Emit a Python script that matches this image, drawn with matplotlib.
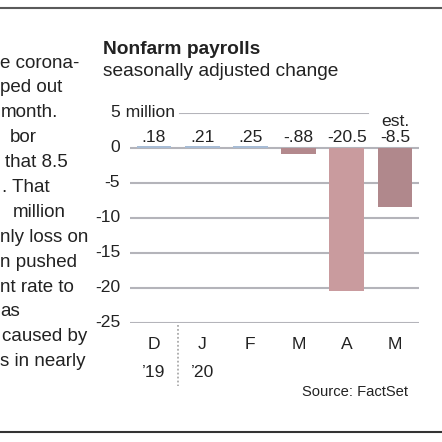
import matplotlib.pyplot as plt
from matplotlib.lines import Line2D

plt.rcParams['font.family'] = ['Liberation Sans', 'DejaVu Sans']

months = ['D', 'J', 'F', 'M', 'A', 'M']
years = ['\u201919', '\u201920']
change = [0.18, 0.21, 0.25, -0.88, -20.5, -8.5]
value_labels = ['.18', '.21', '.25', '-.88', '-20.5', '-8.5']
bar_colors = ['#a7bcd5', '#a7bcd5', '#a7bcd5', '#b3898d', '#c99b9e', '#b0888c']
yticks = [0, -5, -10, -15, -20, -25]

# story text on the left, only the part that shows in the crop
story = ['e corona-', 'ped out', 'month.', 'bor', 'that 8.5', '. That', 'million',
         'nly loss on', 'n pushed', 'nt rate to', 'as', 'caused by', 's in nearly']
story_left = [0.5, 0.5, 0.5, 10, 5, 2, 13, 0.5, 0.5, 0.5, 0.5, 2, 0.5]

W = H = 442
fig = plt.figure(figsize=(4.42, 4.42), dpi=100)
txt = '#222222'

# frame rules
fig.add_artist(Line2D([0, 1], [1 - 7.7 / H] * 2, color='#5a5a5a', lw=1.5))
fig.add_artist(Line2D([0, 1], [1 - 431.7 / H] * 2, color='#333333', lw=1.5))

for i, (s, l) in enumerate(zip(story, story_left)):
    y = 63 + i * 24.9
    fig.text(l / W, 1 - y / H, s, ha='left', va='center', fontsize=13.5, color=txt)

fig.text(103 / W, 1 - 50 / H, 'Nonfarm payrolls', fontsize=13.8, fontweight='bold',
         va='center', color=txt)
fig.text(103 / W, 1 - 72 / H, 'seasonally adjusted change', fontsize=13.8,
         va='center', color=txt)

ax_l, ax_r = 129.9, 419.1
ax_t, ax_b = 112.5, 322.5
ax = fig.add_axes([ax_l / W, 1 - ax_b / H, (ax_r - ax_l) / W, (ax_b - ax_t) / H])
ax.set_xlim(-0.5, 5.5)
ax.set_ylim(-25, 5)
ax.axis('off')

grid = '#b4b4ba'
for t in yticks:
    ax.axhline(t, color=grid, lw=1.5, zorder=1)
ax.axhline(5, xmin=(180 - ax_l) / (ax_r - ax_l), xmax=(368 - ax_l) / (ax_r - ax_l),
           color=grid, lw=1.5, zorder=1)

x = list(range(len(months)))
ax.bar(x, change, width=0.726, color=bar_colors, zorder=2)

yt = ax.get_yaxis_transform()
for t in yticks:
    ax.text((120 - ax_l) / (ax_r - ax_l), t, str(t), transform=yt,
            ha='right', va='center', fontsize=12.6, color=txt)
ax.text((111 - ax_l) / (ax_r - ax_l), 5, '5 million', transform=yt,
        ha='left', va='center', fontsize=12.6, color=txt)

for xi, lab in zip(x, value_labels):
    ax.annotate(lab, (xi, 0), xytext=(0, 4), textcoords='offset points',
                ha='center', va='baseline', fontsize=12.6, color=txt)
ax.annotate('est.', (x[-1], 0), xytext=(0, 15.5), textcoords='offset points',
            ha='center', va='baseline', fontsize=12.6, color=txt)

xt = ax.get_xaxis_transform()
for xi, m in zip(x, months):
    ax.text(xi, -0.107, m, transform=xt, ha='center', va='center', fontsize=12.6, color=txt)
for xi, yr in zip(x[:2], years):
    ax.text(xi, -0.24, yr, transform=xt, ha='center', va='center', fontsize=12.6, color=txt)
ax.plot([0.5, 0.5], [-0.012, -0.3], transform=xt, color='#aaaaaa', lw=1.3,
        linestyle=(0, (1, 1.2)), clip_on=False)

fig.text(408 / W, 1 - 392 / H, 'Source: FactSet', ha='right', va='center',
         fontsize=10.6, color=txt)

fig.savefig('out.png', dpi=100)
